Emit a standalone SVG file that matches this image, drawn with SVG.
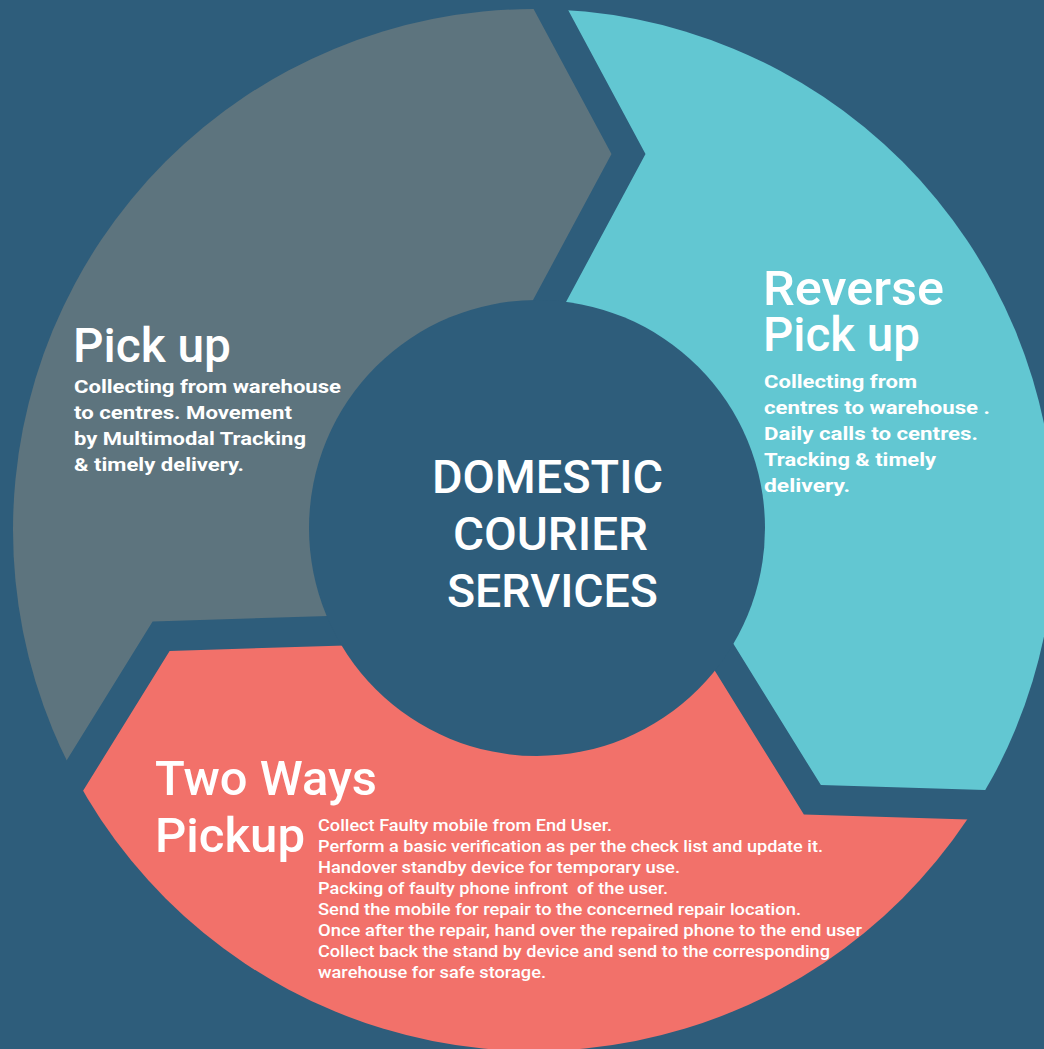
<svg xmlns="http://www.w3.org/2000/svg" xmlns:xlink="http://www.w3.org/1999/xlink" width="1044" height="1049" viewBox="0 0 1044 1049">
<style>
.t{font-family:Roboto,"Liberation Sans",sans-serif;font-weight:500;fill:#ffffff}
.title{font-size:48px}
.center{font-size:46px}
.body{font-size:19px;font-weight:700}
.small{font-size:16px;font-weight:500}
</style>
<defs>
<clipPath id="ring"><circle cx="534" cy="530" r="521"/></clipPath>
<path id="seg" d="M -124.57 0 L 77.5 -376 L -96.62 -700 L -1100 -700 L -1100 700 L -574.92 404.21 L -381.38 91.44 L 45.25 78.38 Z"/>
</defs>
<rect x="0" y="0" width="1044" height="1049" fill="#2E5D7B"/>

<g id="pickup">
<g clip-path="url(#ring)"><use xlink:href="#seg" href="#seg" transform="translate(534 530)" fill="#5D747E"/></g>
<text class="t title" x="73" y="362" textLength="158" lengthAdjust="spacingAndGlyphs">Pick up</text>
<text class="t body" x="74" y="393" textLength="267" lengthAdjust="spacingAndGlyphs">Collecting from warehouse</text>
<text class="t body" x="74" y="419" textLength="218" lengthAdjust="spacingAndGlyphs">to centres. Movement</text>
<text class="t body" x="74" y="445" textLength="232" lengthAdjust="spacingAndGlyphs">by Multimodal Tracking</text>
<text class="t body" x="74" y="471" textLength="170" lengthAdjust="spacingAndGlyphs">&amp; timely delivery.</text>
</g>

<g id="reverse-pickup">
<g clip-path="url(#ring)"><use xlink:href="#seg" href="#seg" transform="translate(534 530) rotate(120)" fill="#62C7D2"/></g>
<text class="t title" x="763" y="305" textLength="181" lengthAdjust="spacingAndGlyphs">Reverse</text>
<text class="t title" x="763" y="351" textLength="157" lengthAdjust="spacingAndGlyphs">Pick up</text>
<text class="t body" x="764" y="388" textLength="153" lengthAdjust="spacingAndGlyphs">Collecting from</text>
<text class="t body" x="764" y="414" textLength="226" lengthAdjust="spacingAndGlyphs">centres to warehouse .</text>
<text class="t body" x="764" y="440" textLength="214" lengthAdjust="spacingAndGlyphs">Daily calls to centres.</text>
<text class="t body" x="764" y="466" textLength="172" lengthAdjust="spacingAndGlyphs">Tracking &amp; timely</text>
<text class="t body" x="764" y="492" textLength="86" lengthAdjust="spacingAndGlyphs">delivery.</text>
</g>

<g id="two-ways-pickup">
<g clip-path="url(#ring)"><use xlink:href="#seg" href="#seg" transform="translate(534 530) rotate(240)" fill="#F2716A"/></g>
<text class="t title" x="155" y="795" textLength="222" lengthAdjust="spacingAndGlyphs">Two Ways</text>
<text class="t title" x="155" y="852" textLength="150" lengthAdjust="spacingAndGlyphs">Pickup</text>
<text class="t small" x="318" y="831" textLength="294" lengthAdjust="spacingAndGlyphs">Collect Faulty mobile from End User.</text>
<text class="t small" x="318" y="852" textLength="505" lengthAdjust="spacingAndGlyphs">Perform a basic verification as per the check list and update it.</text>
<text class="t small" x="318" y="873" textLength="362" lengthAdjust="spacingAndGlyphs">Handover standby device for temporary use.</text>
<text class="t small" x="318" y="894" textLength="350" lengthAdjust="spacingAndGlyphs" xml:space="preserve">Packing of faulty phone infront  of the user.</text>
<text class="t small" x="318" y="915" textLength="483" lengthAdjust="spacingAndGlyphs">Send the mobile for repair to the concerned repair location.</text>
<text class="t small" x="318" y="936" textLength="544" lengthAdjust="spacingAndGlyphs">Once after the repair, hand over the repaired phone to the end user</text>
<text class="t small" x="318" y="957" textLength="512" lengthAdjust="spacingAndGlyphs">Collect back the stand by device and send to the corresponding</text>
<text class="t small" x="318" y="978" textLength="228" lengthAdjust="spacingAndGlyphs">warehouse for safe storage.</text>
</g>

<g id="center">
<circle cx="537" cy="528" r="228" fill="#2E5D7B"/>
<text class="t center" x="432" y="493" textLength="231" lengthAdjust="spacingAndGlyphs">DOMESTIC</text>
<text class="t center" x="453" y="550" textLength="195" lengthAdjust="spacingAndGlyphs">COURIER</text>
<text class="t center" x="447" y="607" textLength="211" lengthAdjust="spacingAndGlyphs">SERVICES</text>
</g>

<g id="connectors"></g>
</svg>
